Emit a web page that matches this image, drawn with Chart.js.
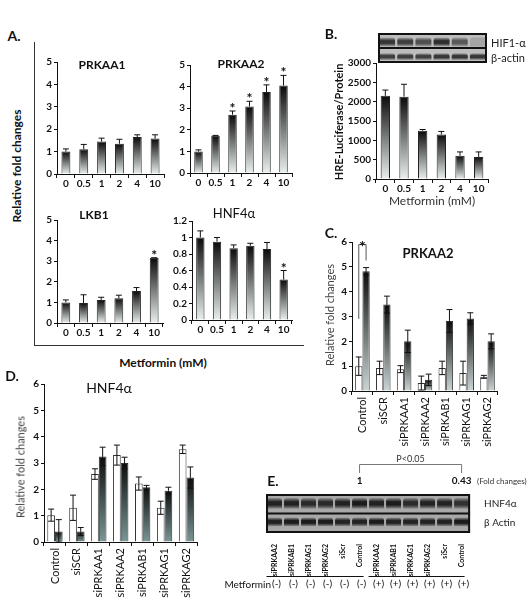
<html><head></head>
<body style="margin:0;background:#fff">
<script src="https://cdn.jsdelivr.net/npm/chart.js@4.4.0/dist/chart.umd.min.js"></script>
<div id="fig" style="position:relative;width:531px;height:600px;overflow:hidden;font-family:Lato,'Open Sans',sans-serif;color:#111;background:#fff"></div>
<script>
// ---- data ----
const doses = ['0', '0.5', '1', '2', '4', '10'];
const prkaa1 = [1.0, 1.1, 1.45, 1.35, 1.65, 1.58];
const prkaa1Err = [1.12, 1.32, 1.6, 1.55, 1.75, 1.75];
const prkaa2 = [1.0, 1.72, 2.7, 3.08, 3.75, 4.05];
const prkaa2Err = [1.07, 1.74, 2.87, 3.32, 4.08, 4.52];
const prkaa2Star = [0, 0, 1, 1, 1, 1];
const lkb1 = [1.0, 0.97, 1.12, 1.2, 1.55, 3.17];
const lkb1Err = [1.12, 1.37, 1.25, 1.35, 1.72, 3.17];
const lkb1Star = [0, 0, 0, 0, 0, 1];
const hnf4a = [1.0, 0.95, 0.87, 0.9, 0.86, 0.49];
const hnf4aErr = [1.08, 1.0, 0.91, 0.93, 0.94, 0.6];
const hnf4aStar = [0, 0, 0, 0, 0, 1];

const hreLuc = [2150, 2130, 1250, 1150, 600, 570];
const hreLucErr = [2300, 2450, 1280, 1230, 700, 700];
const hifBand = [0.8, 0.75, 0.65, 0.85, 0.6, 0.15];
const actinBandB = [0.75, 0.75, 0.75, 0.8, 0.8, 0.8];

const sirnas = ['Control', 'siSCR', 'siPRKAA1', 'siPRKAA2', 'siPRKAB1', 'siPRKAG1', 'siPRKAG2'];
const cCtl = [1.0, 0.93, 0.88, 0.32, 0.93, 0.72, 0.57];
const cCtlErr = [1.37, 1.2, 1.02, 0.6, 1.2, 1.2, 0.63];
const cMet = [4.82, 3.48, 2.0, 0.45, 2.82, 2.92, 2.0];
const cMetErr = [4.97, 3.82, 2.45, 0.68, 3.28, 3.15, 2.3];

const dCtl = [1.02, 1.3, 2.58, 3.3, 2.22, 1.3, 3.52];
const dCtlErr = [1.25, 1.78, 2.78, 3.68, 2.47, 1.55, 3.68];
const dMet = [0.4, 0.4, 3.25, 3.0, 2.08, 1.95, 2.45];
const dMetErr = [0.85, 0.55, 3.6, 3.22, 2.15, 2.08, 2.85];

const lanes = ['siPRKAA2', 'siPRKAB1', 'siPRKAG1', 'siPRKAG2', 'siScr', 'Control',
               'siPRKAA2', 'siPRKAB1', 'siPRKAG1', 'siPRKAG2', 'siScr', 'Control'];
const metSign = ['(-)', '(-)', '(-)', '(-)', '(-)', '(-)', '(+)', '(+)', '(+)', '(+)', '(+)', '(+)'];
const hnfBandE = [0.9, 0.9, 0.85, 0.85, 0.9, 0.95, 0.9, 0.95, 0.85, 0.9, 0.9, 0.8];
const actinBandE = [0.9, 0.95, 0.95, 0.95, 0.9, 0.9, 0.95, 0.9, 0.9, 0.9, 0.9, 0.95];
const foldLabels = [[5, '1'], [11, '0.43']];

// ---- helpers ----
const F = 'Lato, "Open Sans", sans-serif';
Chart.defaults.font.family = F;
Chart.defaults.color = '#111';
const fig = document.getElementById('fig');

function canvasAt(area, yW, xH, padT, padR) {
  const L = Math.round(area[0] - yW), T = Math.round(area[1] - padT);
  const W = Math.round(area[2] - area[0] + yW + padR), H = Math.round(area[3] - area[1] + padT + xH);
  const cv = document.createElement('canvas');
  cv.width = W; cv.height = H;
  cv.style.cssText = `position:absolute;left:${L}px;top:${T}px;width:${W}px;height:${H}px`;
  fig.appendChild(cv);
  return cv;
}

function txt(s, x, y, css, rot, align) {
  const d = document.createElement('div');
  d.textContent = s;
  let tx = align == 'left' ? '0' : align == 'right' ? '-100%' : '-50%';
  d.style.cssText = `position:absolute;left:${x}px;top:${y}px;white-space:nowrap;line-height:1;transform:translate(${tx},-50%)${rot ? ' rotate(-90deg)' : ''};` + css;
  fig.appendChild(d);
}

function line(x1, y1, x2, y2, col) {
  const d = document.createElement('div');
  d.style.cssText = `position:absolute;left:${Math.min(x1, x2)}px;top:${Math.min(y1, y2)}px;width:${Math.max(1, Math.abs(x2 - x1))}px;height:${Math.max(1, Math.abs(y2 - y1))}px;background:${col}`;
  fig.appendChild(d);
}

function gradFill(top, bottom) {
  return c => {
    const ch = c.chart;
    if (!ch.chartArea || c.raw == null) return top;
    const y = ch.scales.y;
    const g = ch.ctx.createLinearGradient(0, y.getPixelForValue(c.raw), 0, y.getPixelForValue(0));
    g.addColorStop(0, top); g.addColorStop(1, bottom);
    return g;
  };
}

const errPlugin = {
  id: 'err',
  afterDatasetsDraw(chart) {
    const ctx = chart.ctx, y = chart.scales.y;
    chart.data.datasets.forEach((ds, i) => {
      if (!ds.errHi) return;
      chart.getDatasetMeta(i).data.forEach((bar, j) => {
        const v = ds.data[j], hi = ds.errHi[j];
        const yv = y.getPixelForValue(v), yh = y.getPixelForValue(hi);
        ctx.save();
        ctx.strokeStyle = '#111'; ctx.lineWidth = 1;
        ctx.beginPath();
        ctx.moveTo(bar.x, yv); ctx.lineTo(bar.x, yh);
        ctx.moveTo(bar.x - 3, yh); ctx.lineTo(bar.x + 3, yh);
        if (ds.twoSided) {
          const yl = y.getPixelForValue(Math.max(0, 2 * v - hi));
          ctx.moveTo(bar.x, yv); ctx.lineTo(bar.x, yl);
          ctx.moveTo(bar.x - 3, yl); ctx.lineTo(bar.x + 3, yl);
        }
        ctx.stroke();
        if (ds.stars && ds.stars[j]) {
          ctx.fillStyle = '#111';
          ctx.font = 'bold 14px ' + F;
          ctx.textAlign = 'center';
          ctx.textBaseline = 'alphabetic';
          ctx.fillText('*', bar.x, yh + 2);
        }
        ctx.restore();
      });
    });
  }
};

function barChart(o) {
  const padT = o.padT ?? 8, padR = o.padR ?? 4, rot = o.rot || 0;
  const cv = canvasAt(o.area, o.yW, o.xH, padT, padR);
  return new Chart(cv, {
    type: 'bar',
    data: { labels: o.labels, datasets: o.datasets },
    options: {
      responsive: false, animation: false, devicePixelRatio: 1,
      layout: { padding: { top: padT, right: padR, left: 0, bottom: 0 } },
      plugins: { legend: { display: false }, tooltip: { enabled: false } },
      scales: {
        x: {
          offset: true,
          grid: { offset: true, drawOnChartArea: false, tickLength: 4, color: '#111' },
          border: { color: '#111' },
          ticks: { font: o.xFont, color: '#111', autoSkip: false, maxRotation: rot, minRotation: rot, padding: o.xPad ?? 0 },
          afterFit: s => { s.height = o.xH; }
        },
        y: {
          min: 0, max: o.yMax,
          grid: { drawOnChartArea: false, tickLength: 3, color: '#111' },
          border: { color: '#111' },
          ticks: { stepSize: o.yStep, font: o.yFont, color: '#111', padding: 2, callback: v => String(Math.round(v * 10) / 10) },
          afterFit: s => { s.width = o.yW; }
        }
      }
    },
    plugins: [errPlugin, ...(o.plugins || [])]
  });
}

const boldTick = { size: 10, weight: 'bold' };
function gradBars(data, err, stars) {
  return [{
    data, errHi: err, stars,
    backgroundColor: gradFill('#0a0a0a', '#eaf0f0'),
    borderColor: '#222', borderWidth: 1,
    barPercentage: 0.5, categoryPercentage: 1
  }];
}

// ---- panel A ----
barChart({ area: [57, 62, 164, 174], yW: 20, xH: 16, labels: doses, datasets: gradBars(prkaa1, prkaa1Err), yMax: 5, yStep: 1, xFont: boldTick, yFont: boldTick });
barChart({ area: [190, 65, 292, 173], yW: 20, xH: 16, labels: doses, datasets: gradBars(prkaa2, prkaa2Err, prkaa2Star), yMax: 5, yStep: 1, xFont: boldTick, yFont: boldTick });
barChart({ area: [57, 220, 163, 323], yW: 20, xH: 16, labels: doses, datasets: gradBars(lkb1, lkb1Err, lkb1Star), yMax: 5, yStep: 1, xFont: boldTick, yFont: boldTick });
barChart({ area: [192, 221, 292, 320], yW: 24, xH: 16, labels: doses, datasets: gradBars(hnf4a, hnf4aErr, hnf4aStar), yMax: 1.2, yStep: 0.2, xFont: boldTick, yFont: boldTick });

// ---- panel B ----
barChart({
  area: [376, 63, 488, 179], yW: 32, xH: 16, labels: doses,
  datasets: [{ data: hreLuc, errHi: hreLucErr, backgroundColor: gradFill('#0a0a0a', '#eaf0f0'), borderColor: '#222', borderWidth: 1, barPercentage: 0.5, categoryPercentage: 1 }],
  yMax: 3000, yStep: 500, xFont: boldTick, yFont: boldTick
});

function bandFill(alpha) {
  return c => {
    const ch = c.chart;
    if (!ch.chartArea || !c.raw) return 'rgba(20,20,20,0.8)';
    const y = ch.scales.y, a = alpha[c.dataIndex];
    const g = ch.ctx.createLinearGradient(0, y.getPixelForValue(c.raw[1]), 0, y.getPixelForValue(c.raw[0]));
    g.addColorStop(0, 'rgba(20,20,20,0.15)');
    g.addColorStop(0.35, `rgba(20,20,20,${a})`);
    g.addColorStop(0.65, `rgba(20,20,20,${a})`);
    g.addColorStop(1, 'rgba(20,20,20,0.15)');
    return g;
  };
}

function blot(o) {
  const cv = canvasAt(o.area, 0, o.xH, o.padT, o.padR || 0);
  return new Chart(cv, {
    type: 'bar',
    data: {
      labels: o.labels,
      datasets: o.rows.map(r => ({
        data: o.labels.map(() => r.band),
        backgroundColor: bandFill(r.alpha),
        borderWidth: 0, borderRadius: 3, grouped: false,
        barPercentage: 0.88, categoryPercentage: 1
      }))
    },
    options: {
      responsive: false, animation: false, devicePixelRatio: 1,
      layout: { padding: { top: o.padT, right: o.padR || 0, left: 0, bottom: 0 } },
      plugins: { legend: { display: false }, tooltip: { enabled: false } },
      scales: {
        x: {
          display: !!o.xH, offset: true,
          grid: { display: false }, border: { display: false },
          ticks: { font: { size: 7, weight: 'bold' }, color: '#111', autoSkip: false, maxRotation: 90, minRotation: 90, padding: 3 },
          afterFit: s => { s.height = o.xH; }
        },
        y: { display: false, min: 0, max: 2 }
      }
    },
    plugins: [{
      id: 'blotbg',
      beforeDatasetsDraw(ch) {
        const a = ch.chartArea, c = ch.ctx;
        c.save(); c.fillStyle = o.bg; c.fillRect(a.left, a.top, a.width, a.height); c.restore();
      },
      afterDatasetsDraw(ch) {
        const a = ch.chartArea, c = ch.ctx, ym = ch.scales.y.getPixelForValue(1);
        c.save(); c.strokeStyle = '#111'; c.lineWidth = 2;
        c.strokeRect(a.left + 1, a.top + 1, a.width - 2, a.height - 2);
        c.beginPath(); c.moveTo(a.left, ym); c.lineTo(a.right, ym); c.stroke();
        c.restore();
        if (o.after) o.after(ch);
      }
    }]
  });
}

blot({
  area: [378, 33, 487, 63], xH: 0, padT: 0, labels: doses, bg: '#bdbdbd',
  rows: [{ band: [1.1, 1.7], alpha: hifBand }, { band: [0.2, 0.65], alpha: actinBandB }]
});

// ---- panel C ----
barChart({
  area: [352, 242, 499, 391], yW: 30, xH: 75, labels: sirnas, rot: 90, xPad: 2,
  datasets: [
    { data: cCtl, errHi: cCtlErr, twoSided: true, backgroundColor: '#fff', borderColor: '#333', borderWidth: 1, barPercentage: 1, categoryPercentage: 0.7 },
    { data: cMet, errHi: cMetErr, twoSided: true, backgroundColor: gradFill('#0d0d0d', '#cad6d6'), borderColor: '#333', borderWidth: 1, barPercentage: 1, categoryPercentage: 0.7 }
  ],
  yMax: 6, yStep: 1, xFont: { size: 11 }, yFont: boldTick,
  plugins: [{
    id: 'bracket',
    afterDatasetsDraw(ch) {
      const c = ch.ctx, y = ch.scales.y;
      const a = ch.getDatasetMeta(0).data[0], b = ch.getDatasetMeta(1).data[0];
      const yt = y.getPixelForValue(5.9);
      c.save(); c.strokeStyle = '#555'; c.lineWidth = 1;
      c.beginPath();
      c.moveTo(a.x, y.getPixelForValue(2.9)); c.lineTo(a.x, yt); c.lineTo(b.x, yt); c.lineTo(b.x, y.getPixelForValue(5.25));
      c.stroke();
      c.fillStyle = '#111'; c.font = 'bold 16px ' + F; c.textAlign = 'center';
      c.fillText('*', (a.x + b.x) / 2, yt + 8);
      c.restore();
    }
  }]
});

// ---- panel D ----
barChart({
  area: [44, 384, 198, 542], yW: 30, xH: 60, labels: sirnas, rot: 90, xPad: 2,
  datasets: [
    { data: dCtl, errHi: dCtlErr, twoSided: true, backgroundColor: '#fff', borderColor: '#333', borderWidth: 1, barPercentage: 1, categoryPercentage: 0.7 },
    { data: dMet, errHi: dMetErr, twoSided: true, backgroundColor: gradFill('#0d0d0d', '#7b9797'), borderColor: '#333', borderWidth: 1, barPercentage: 1, categoryPercentage: 0.7 }
  ],
  yMax: 6, yStep: 1, xFont: { size: 11 }, yFont: boldTick
});

// ---- panel E ----
blot({
  area: [266, 494, 473, 533], xH: 67, padT: 44, labels: lanes, bg: '#a8a8a8',
  rows: [{ band: [1.24, 1.8], alpha: hnfBandE }, { band: [0.34, 0.8], alpha: actinBandE }],
  after(ch) {
    const c = ch.ctx, x = ch.scales.x, a = ch.chartArea;
    c.save();
    c.fillStyle = '#111'; c.textAlign = 'center';
    c.font = 'bold 10px ' + F; c.textBaseline = 'middle';
    foldLabels.forEach(([i, s]) => c.fillText(s, x.getPixelForValue(i), a.top - 13));
    const x0 = x.getPixelForValue(foldLabels[0][0]), x1 = x.getPixelForValue(foldLabels[1][0]);
    c.strokeStyle = '#777'; c.lineWidth = 1;
    c.beginPath();
    c.moveTo(x0, a.top - 21); c.lineTo(x0, a.top - 29.5); c.lineTo(x1, a.top - 29.5); c.lineTo(x1, a.top - 21);
    c.stroke();
    c.font = '9px ' + F; c.textBaseline = 'bottom'; c.fillStyle = '#333';
    c.fillText('P<0.05', (x0 + x1) / 2, a.top - 30);
    c.font = '10px ' + F; c.textBaseline = 'middle'; c.fillStyle = '#111';
    metSign.forEach((s, i) => c.fillText(s, x.getPixelForValue(i) + 2, a.bottom + 51));
    c.strokeStyle = '#111';
    c.beginPath();
    c.moveTo(x.getPixelForValue(0) - 8, a.bottom + 43.5); c.lineTo(x.getPixelForValue(5) + 4, a.bottom + 43.5);
    c.moveTo(x.getPixelForValue(6) - 8, a.bottom + 43.5); c.lineTo(x.getPixelForValue(11) + 3, a.bottom + 43.5);
    c.stroke();
    c.restore();
  }
});

// ---- annotations ----
line(34, 42, 35, 345, '#333');
line(34, 345, 304, 346, '#333');
txt('A.', 14, 36, 'font-size:14px;font-weight:bold');
txt('Relative fold changes', 17, 166, 'font-size:12px;font-weight:bold', true);
txt('PRKAA1', 102, 65, 'font-size:12px;font-weight:bold');
txt('PRKAA2', 241, 64, 'font-size:12px;font-weight:bold');
txt('LKB1', 94, 215, 'font-size:12px;font-weight:bold');
txt('HNF4α', 234, 213, 'font-size:13px');
txt('Metformin (mM)', 163, 363, 'font-size:12px;font-weight:bold');

txt('B.', 331, 34, 'font-size:14px;font-weight:bold');
txt('HRE-Luciferase/Protein', 338, 122, 'font-size:11px;font-weight:bold', true);
txt('Metformin (mM)', 432, 201, 'font-size:12px;color:#333');
txt('HIF1-α', 491, 42, 'font-size:11px;color:#222', false, 'left');
txt('β-actin', 491, 57, 'font-size:11px;color:#222', false, 'left');

txt('C.', 331, 233, 'font-size:14px;font-weight:bold');
txt('PRKAA2', 428, 253, 'font-size:13px;font-weight:bold');
txt('Relative fold changes', 329, 315, 'font-size:11px;color:#444', true);

txt('D.', 12, 376, 'font-size:14px;font-weight:bold');
txt('HNF4α', 109, 388, 'font-size:14px');
txt('Relative fold changes', 20, 467, 'font-size:11px;color:#444', true);

txt('E.', 273, 481, 'font-size:14px;font-weight:bold');
txt('(Fold changes)', 477, 481, 'font-size:8px;color:#333', false, 'left');
txt('HNF4α', 484, 503, 'font-size:10px;color:#222', false, 'left');
txt('β Actin', 484, 522, 'font-size:10px;color:#222', false, 'left');
txt('Metformin', 271, 584, 'font-size:10px', false, 'right');
</script>
</body>
</html>
